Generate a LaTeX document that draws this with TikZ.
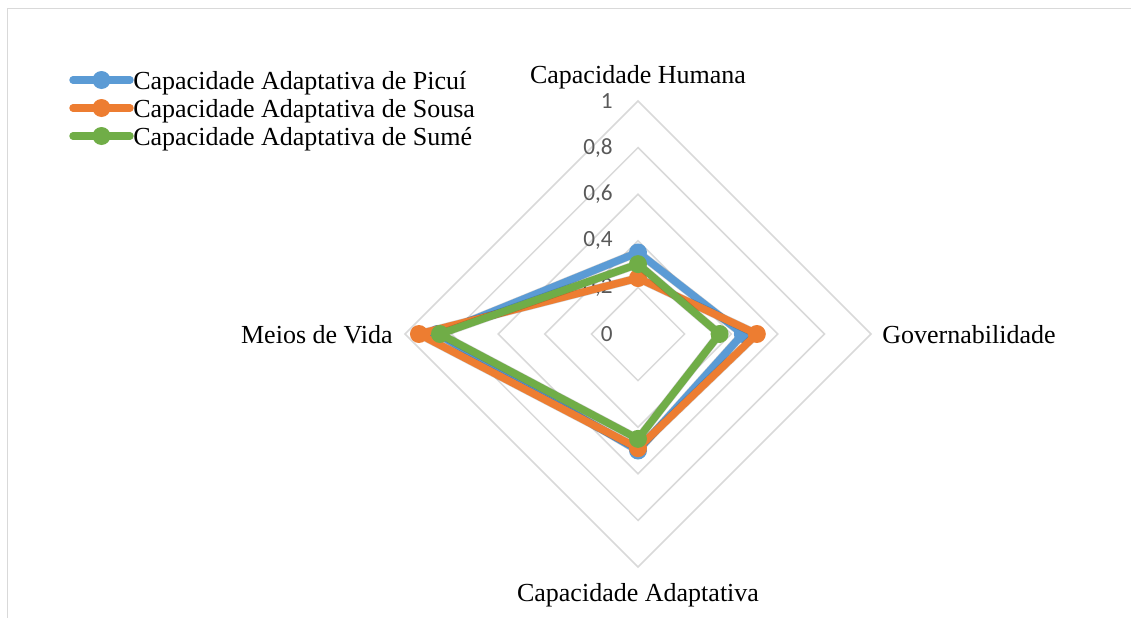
\documentclass[tikz,border=0pt]{standalone}
\usepackage{fontspec}
\usetikzlibrary{calc}
\setmainfont{Liberation Serif}
\newfontfamily\tickfont{Carlito}
\definecolor{picui}{HTML}{5B9BD5}
\definecolor{sousa}{HTML}{ED7D31}
\definecolor{sume}{HTML}{70AD47}
\definecolor{gridgray}{HTML}{D9D9D9}
\definecolor{ticktext}{HTML}{595959}
\tikzset{
  gridline/.style = {gridgray, line width=1.1pt},
  serie/.style = {line width=5.3pt, line join=round, line cap=round},
  shade/.style = {black, opacity=0.18, line width=6pt, line join=round},
  axislabel/.style = {font=\fontsize{18.5}{20}\selectfont, inner sep=0pt},
  ticklabel/.style = {font=\tickfont\fontsize{16.5}{18}\selectfont, text=ticktext, inner sep=0pt, anchor=east},
}
% one series of the radar: name, colour, humana, governabilidade, adaptativa, meios de vida
\newcommand{\capserie}[6]{%
  \coordinate (#1-hum) at (638,{334-233*#3});
  \coordinate (#1-gov) at ({638+233*#4},334);
  \coordinate (#1-ada) at (638,{334+233*#5});
  \coordinate (#1-mei) at ({638-233*#6},334);
  \draw[shade, shift={(2,3)}] (#1-hum) -- (#1-gov) -- (#1-ada) -- (#1-mei) -- cycle;
  \draw[serie, #2] (#1-hum) -- (#1-gov) -- (#1-ada) -- (#1-mei) -- cycle;
  \foreach \p in {hum,gov,ada,mei} \fill[#2] (#1-\p) circle (9);
}
\begin{document}
\begin{tikzpicture}[x=0.025cm, y=-0.025cm]
  \useasboundingbox (0,0) rectangle (1131,618);
  % frame of the chart area
  \draw[gridgray, line width=1.4pt] (7.5,618) -- (7.5,8.5) -- (1131,8.5);

  % grid
  \coordinate (ctr) at (638,334);
  \foreach \k in {1,...,5}
    \draw[gridline] ($(ctr)+(0,-46.6*\k)$) -- ($(ctr)+(46.6*\k,0)$) -- ($(ctr)+(0,46.6*\k)$) -- ($(ctr)+(-46.6*\k,0)$) -- cycle;
  \foreach \k/\t in {0/0,1/{0,2},2/{0,4},3/{0,6},4/{0,8},5/1}
    \node[ticklabel] (tick\k) at ($(ctr)+(-25,-46.6*\k)$) {\t};

  % axis names
  \node[axislabel, anchor=south] (hum) at (638,89) {Capacidade Humana};
  \node[axislabel, anchor=west] (gov) at (882,335) {Governabilidade};
  \node[axislabel, anchor=north] (ada) at (638,583) {Capacidade Adaptativa};
  \node[axislabel, anchor=east] (mei) at (393,335) {Meios de Vida};

  % series
  \capserie{pic}{picui}{0.35}{0.45}{0.50}{0.86}
  \capserie{sou}{sousa}{0.24}{0.51}{0.49}{0.94}
  \capserie{sum}{sume}{0.30}{0.35}{0.45}{0.85}

  % legend
  \foreach \s/\c/\y/\t in {a/picui/80/Picuí, b/sousa/108/Sousa, c/sume/136/Sumé} {
    \coordinate (leg\s-l) at (73,\y);
    \coordinate (leg\s-r) at (130,\y);
    \draw[serie, \c] (leg\s-l) -- (leg\s-r);
    \fill[\c] ($(leg\s-l)!0.5!(leg\s-r)$) circle (9);
    \node[axislabel, anchor=west] (leg\s) at (133,\y+3) {Capacidade Adaptativa de \t};
  }
\end{tikzpicture}
\end{document}
